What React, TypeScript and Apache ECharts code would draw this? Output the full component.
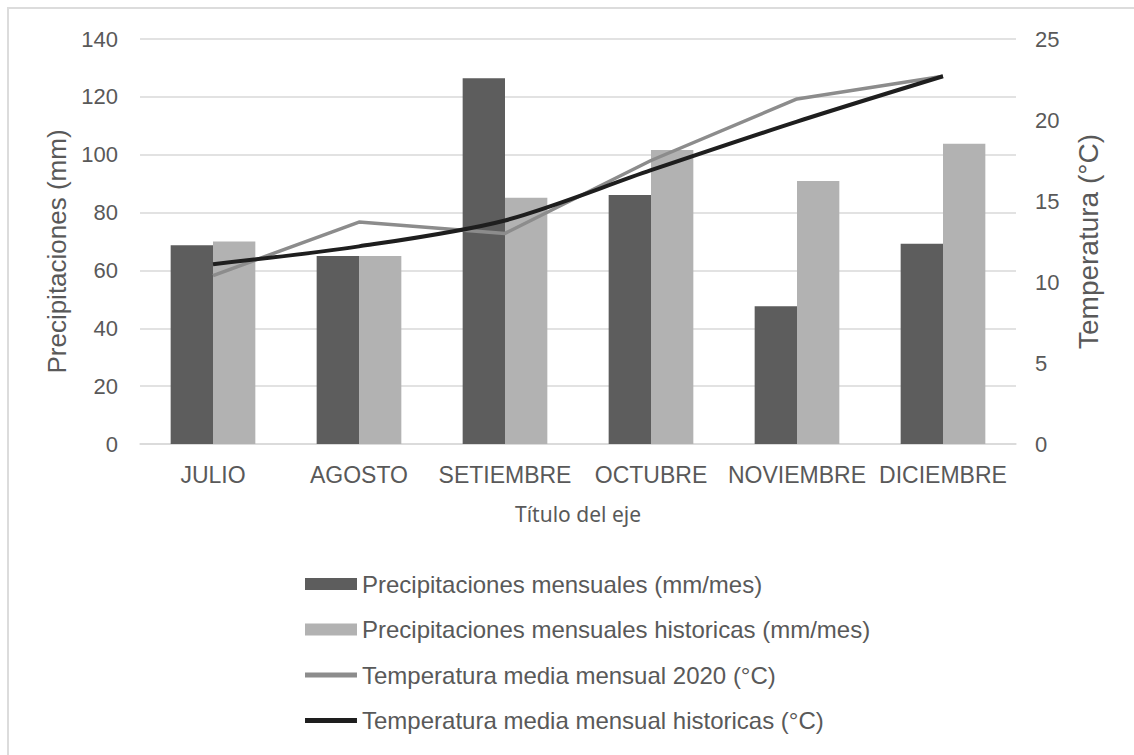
import React, { useEffect, useRef } from "react";
import * as echarts from "echarts";

// Months on the category axis
const months = ["JULIO", "AGOSTO", "SETIEMBRE", "OCTUBRE", "NOVIEMBRE", "DICIEMBRE"];

// Rainfall (mm/month)
const precipMensual = [68.7, 65, 126.4, 86.1, 47.6, 69.2];
const precipHistorica = [70, 65, 85.1, 101.6, 90.9, 103.8];

// Mean monthly temperature (°C)
const tempMedia2020 = [10.4, 13.7, 13.0, 17.5, 21.3, 22.7];
const tempMediaHistorica = [11.1, 12.2, 13.8, 16.9, 19.9, 22.7];

const seriesNames = [
  "Precipitaciones mensuales (mm/mes)",
  "Precipitaciones mensuales historicas (mm/mes)",
  "Temperatura media mensual 2020 (°C)",
  "Temperatura media mensual historicas (°C)",
];

const FONT = "'Liberation Sans', Arial, sans-serif";
const TEXT = "#595959";
const GRID = "#d9d9d9";

const COLOR_BAR = "#5d5d5d";
const COLOR_BAR_HIST = "#b2b2b2";
const COLOR_LINE = "#8c8c8c";
const COLOR_LINE_HIST = "#1e1e1e";

// Thin horizontal stroke inside a 52x12 box, used as the legend icon of line series
const LINE_ICON = "path://M0,0h0.5v0.01h-0.5zM0,12h0.5v0.01h-0.5zM0,3.5h52v5h-52z";

export default function App() {
  const ref = useRef<HTMLDivElement>(null);

  useEffect(() => {
    if (!ref.current) return;
    const chart = echarts.init(ref.current, null, { renderer: "svg" });
    chart.setOption({
      animation: false,
      backgroundColor: "#ffffff",
      textStyle: { fontFamily: FONT, color: TEXT },
      graphic: [
        {
          type: "rect",
          shape: { x: 8, y: 8, width: 1200, height: 800 },
          style: { fill: "none", stroke: "#dcdcdc", lineWidth: 2 },
          silent: true,
        },
      ],
      grid: { left: 140, right: 118, top: 39, bottom: 311, containLabel: false },
      legend: {
        orient: "vertical",
        left: 305,
        top: 572,
        padding: 0,
        itemWidth: 52,
        itemHeight: 12,
        itemGap: 21.5,
        textStyle: { fontFamily: FONT, fontSize: 24, color: TEXT },
        data: [
          { name: seriesNames[0], icon: "rect" },
          { name: seriesNames[1], icon: "rect" },
          { name: seriesNames[2], icon: LINE_ICON, itemStyle: { color: COLOR_LINE, borderWidth: 0 } },
          { name: seriesNames[3], icon: LINE_ICON, itemStyle: { color: COLOR_LINE_HIST, borderWidth: 0 } },
        ],
      },
      xAxis: {
        type: "category",
        data: months,
        name: "Título del eje",
        nameLocation: "middle",
        nameGap: 59,
        nameTextStyle: { fontFamily: "'Noto Sans', sans-serif", fontSize: 21, color: TEXT },
        axisLine: { lineStyle: { color: GRID, width: 1.5 } },
        axisTick: { show: false },
        axisLabel: { fontFamily: FONT, fontSize: 23, color: TEXT, margin: 19, interval: 0 },
      },
      yAxis: [
        {
          type: "value",
          min: 0,
          max: 140,
          interval: 20,
          name: "Precipitaciones (mm)",
          nameLocation: "middle",
          nameRotate: 90,
          nameGap: 66,
          nameTextStyle: { fontFamily: FONT, fontSize: 26, color: TEXT, padding: [0, 20, 0, 0] },
          axisLine: { show: false },
          axisTick: { show: false },
          axisLabel: { fontFamily: FONT, fontSize: 22, color: TEXT, margin: 22 },
          splitLine: { lineStyle: { color: GRID, width: 1.5 } },
        },
        {
          type: "value",
          min: 0,
          max: 25,
          interval: 5,
          name: "Temperatura (°C)",
          nameLocation: "middle",
          nameRotate: 90,
          nameGap: 58,
          nameTextStyle: { fontFamily: FONT, fontSize: 28, color: TEXT },
          axisLine: { show: false },
          axisTick: { show: false },
          axisLabel: { fontFamily: FONT, fontSize: 22, color: TEXT, margin: 19 },
          splitLine: { show: false },
        },
      ],
      series: [
        {
          name: seriesNames[0],
          type: "bar",
          data: precipMensual,
          barGap: "0%",
          barCategoryGap: "42%",
          itemStyle: { color: COLOR_BAR },
        },
        {
          name: seriesNames[1],
          type: "bar",
          data: precipHistorica,
          itemStyle: { color: COLOR_BAR_HIST },
        },
        {
          name: seriesNames[2],
          type: "line",
          yAxisIndex: 1,
          data: tempMedia2020,
          symbol: "none",
          lineStyle: { color: COLOR_LINE, width: 3.5 },
          itemStyle: { color: COLOR_LINE },
        },
        {
          name: seriesNames[3],
          type: "line",
          yAxisIndex: 1,
          data: tempMediaHistorica,
          symbol: "none",
          smooth: 0.3,
          lineStyle: { color: COLOR_LINE_HIST, width: 4 },
          itemStyle: { color: COLOR_LINE_HIST },
        },
      ],
    });
    return () => chart.dispose();
  }, []);

  return (
    <div
      ref={ref}
      style={{ position: "fixed", left: 0, top: 0, width: 1134, height: 755, background: "#fff" }}
    />
  );
}
